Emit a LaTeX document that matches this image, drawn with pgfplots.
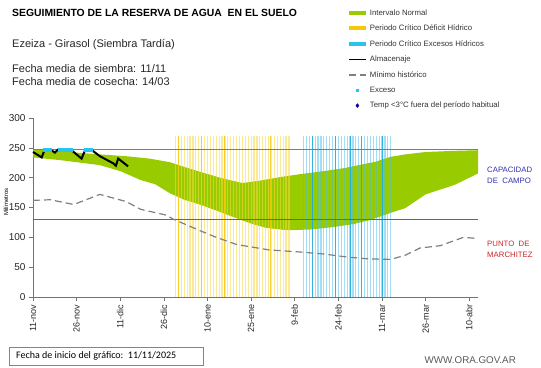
\documentclass[border=0pt]{standalone}
\usepackage{fontspec}
\setmainfont{Liberation Sans}
\newfontfamily\calibri{Carlito}
\usepackage{pgfplots}
\pgfplotsset{compat=1.18}
\usepgfplotslibrary{fillbetween}
\definecolor{verde}{RGB}{153,204,0}
\definecolor{amar}{RGB}{250,215,60}
\definecolor{amarosc}{RGB}{245,200,10}
\definecolor{celeste}{RGB}{70,190,235}
\definecolor{celesteleg}{RGB}{40,195,240}
\definecolor{celesteosc}{RGB}{20,170,220}
\definecolor{capac}{RGB}{100,120,220}
\definecolor{marchi}{RGB}{215,55,55}
\definecolor{minh}{RGB}{128,128,128}
\definecolor{txtcap}{RGB}{50,50,170}
\definecolor{txtmar}{RGB}{200,40,40}
\definecolor{boxc}{RGB}{160,120,120}
\begin{document}
\begin{tikzpicture}
\path (0,0) rectangle (541bp,368bp);
\node[anchor=west,inner sep=0pt,font=\fontsize{10.4bp}{12bp}\selectfont\bfseries] at (12bp,355bp) {SEGUIMIENTO DE LA RESERVA DE AGUA\ \ EN EL SUELO};
\node[anchor=west,inner sep=0pt,font=\fontsize{11bp}{13bp}\selectfont,text=black!85] at (12bp,323bp) {Ezeiza - Girasol (Siembra Tardía)};
\node[anchor=west,inner sep=0pt,font=\fontsize{11bp}{13bp}\selectfont,text=black!85] at (12bp,299bp) {Fecha media de siembra: 11/11};
\node[anchor=west,inner sep=0pt,font=\fontsize{11bp}{13bp}\selectfont,text=black!85] at (12bp,286bp) {Fecha media de cosecha: 14/03};
\node[rotate=90,inner sep=0pt,font=\fontsize{6bp}{7bp}\selectfont] at (6bp,166bp) {Milímetros};
\node[anchor=north west,inner sep=0pt,align=left,text=txtcap,font=\fontsize{7.8bp}{10.5bp}\selectfont] at (487bp,201bp) {CAPACIDAD\\DE\ \ CAMPO};
\node[anchor=north west,inner sep=0pt,align=left,text=txtmar,font=\fontsize{7.8bp}{10.5bp}\selectfont] at (487bp,127bp) {PUNTO\ \ DE\\MARCHITEZ};
\node[draw=boxc,anchor=north west,minimum width=194bp,minimum height=18bp,inner sep=0pt] at (9bp,21bp) {};
\node[anchor=west,inner sep=0pt,font=\calibri\fontsize{10bp}{12bp}\selectfont] at (16bp,12bp) {Fecha de inicio del gráfico:\ \ 11/11/2025};
\node[anchor=east,inner sep=0pt,text=black!65,font=\fontsize{9.8bp}{11bp}\selectfont] at (516bp,8bp) {WWW.ORA.GOV.AR};
\begin{axis}[
  at={(33bp,71bp)}, anchor=south west,
  width=445bp, height=179bp, scale only axis,
  xmin=0, xmax=153, ymin=0, ymax=300,
  axis lines*=left,
  axis line style={draw=black!55, line width=0.8bp},
  tick style={draw=black!55, line width=0.6bp},
  major tick length=4bp,
  tick align=outside,
  ytick={0,50,...,300},
  xtick={0,15,...,150},
  xticklabels={11-nov,26-nov,11-dic,26-dic,10-ene,25-ene,9-feb,24-feb,11-mar,26-mar,10-abr},
  x tick label style={rotate=90, anchor=east, font=\fontsize{9bp}{10bp}\selectfont, text=black!85},
  y tick label style={font=\fontsize{10bp}{12bp}\selectfont, text=black!85},
  /pgf/number format/assume math mode=true,
  clip=false,
  legend style={at={(0.705,1.619)}, anchor=north west, draw=none, fill=none,
    font=\fontsize{7.8bp}{9bp}\selectfont, text=black!80, row sep=4.3bp, inner sep=0pt},
  legend cell align=left,
]
% green band bounds
\addplot[name path=up, draw=none, no marks, forget plot] coordinates {
(0,247) (10,244) (20,240) (32,236) (40,232) (47,226) (52,218) (58,209) (65,199) (72,191) (78,195) (85,201) (92,206) (100,211) (107,216) (113,222) (118,227) (123,235) (128,239) (135,243) (145,245) (153,246)};
\addplot[name path=lo, draw=none, no marks, forget plot] coordinates {
(0,234) (10,229) (23,221) (30,211) (37,196) (42,189) (47,174) (52,163) (58,154) (64,143) (70,132) (75,123) (80,116) (87,112) (95,113) (103,117) (110,122) (116,129) (123,141) (128,149) (135,172) (145,188) (153,207)};
\addplot[verde, forget plot] fill between[of=up and lo];
% yellow bars
\addplot[ycomb, draw=amar, line width=1.2bp, draw opacity=0.55, no marks, forget plot] coordinates {
(49,270)(50,270)(51,270)(52,270)(53,270)(54,270)(55,270)(56,270)(57,270)(58,270)(59,270)(60,270)(61,270)(62,270)(63,270)(64,270)(65,270)(66,270)(67,270)(68,270)(69,270)(70,270)(71,270)(72,270)(73,270)(74,270)(75,270)(76,270)(77,270)(78,270)(79,270)(80,270)(81,270)(82,270)(83,270)(84,270)(85,270)(86,270)(87,270)(88,270)};
\addplot[ycomb, draw=amarosc, line width=1bp, draw opacity=0.8, no marks, forget plot] coordinates {
(50,270)(58,270)(66,270)(81.5,270)};
% cyan bars
\addplot[ycomb, draw=celeste, line width=1.2bp, draw opacity=0.5, no marks, forget plot] coordinates {
(93,270)(94,270)(95,270)(96,270)(97,270)(98,270)(99,270)(100,270)(101,270)(102,270)(103,270)(104,270)(105,270)(106,270)(107,270)(108,270)(109,270)(110,270)(111,270)(112,270)(113,270)(114,270)(115,270)(116,270)(117,270)(118,270)(119,270)(120,270)(121,270)(122,270)(123,270)};
\addplot[ycomb, draw=celesteosc, line width=1bp, draw opacity=0.8, no marks, forget plot] coordinates {
(96,270)(104,270)(109,270)(113,270)(120,270)};
% capacity and wilting lines
\addplot[draw=capac, line width=1.2bp, no marks, forget plot] coordinates {(0,247) (153,247)};
\addplot[draw=marchi, line width=1.2bp, no marks, forget plot] coordinates {(0,130) (153,130)};
% minimo historico
\addplot[draw=minh, line width=1.2bp, dash pattern=on 7bp off 4bp, no marks, forget plot] coordinates {
(0,162) (6,163) (14,155) (23,172) (32,160) (37,147) (46,137) (48,131) (57,112) (63,100) (70,88) (81,79) (93,75) (100,72) (108,67) (115,64) (123,63) (128,70) (133,82) (140,86) (148,100) (153,98)};
% exceso
\addplot[only marks, mark=square*, mark size=1.2bp, color=celesteleg, forget plot] coordinates {
(4,247)(4.5,247)(5,247)(5.5,247)(6,247)(9,247)(9.5,247)(10,247)(10.5,247)(11,247)(11.5,247)(12,247)(12.5,247)(13,247)(18,247)(18.5,247)(19,247)(19.5,247)(20,247)};
% almacenaje
\addplot[draw=black, line width=2bp, no marks, forget plot] coordinates {
(0,243) (3,234) (4,247) (6,247) (7.5,242) (8.6,247) (13,247) (16.7,232) (18,247) (20,247) (23,236) (27.6,224) (28.5,220) (29.3,232) (32.7,219)};
% legend
\addlegendimage{verde, line width=4bp}
\addlegendentry{Intervalo Normal}
\addlegendimage{amarosc, line width=4bp}
\addlegendentry{Periodo Crítico Déficit Hídrico}
\addlegendimage{celesteleg, line width=4bp}
\addlegendentry{Periodo Crítico Excesos Hídricos}
\addlegendimage{black, line width=1.5bp}
\addlegendentry{Almacenaje}
\addlegendimage{minh, line width=1.2bp, dash pattern=on 7bp off 4bp}
\addlegendentry{Mínimo histórico}
\addlegendimage{only marks, mark=square*, mark size=1bp, celesteleg}
\addlegendentry{Exceso}
\addlegendimage{only marks, mark=diamond*, mark size=2bp, blue!70!black}
\addlegendentry{Temp <3°C fuera del período habitual}
\end{axis}
\end{tikzpicture}
\end{document}
